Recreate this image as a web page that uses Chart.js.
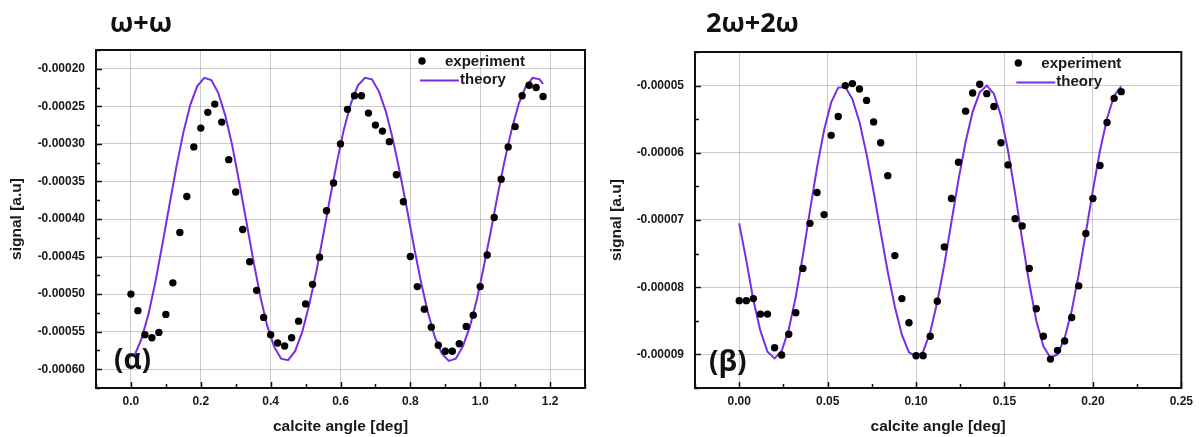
<!DOCTYPE html>
<html lang="en">
<head>
<meta charset="UTF-8">
<title>calcite angle scans</title>
<script src="https://cdn.jsdelivr.net/npm/chart.js"></script>
<style>
    body { margin: 0; background: #fff; }
    .panel { position: absolute; top: 0; height: 437px; }
    #left { left: 0; width: 600px; }
    #right { left: 600px; width: 599px; }
    canvas { display: block; }
    .title, .tag {
        position: absolute;
        font-family: 'Open Sans', sans-serif;
        font-weight: 700;
        line-height: 1;
        color: #111;
        white-space: nowrap;
    }
    .title { font-size: 27px; }
    .tag { font-size: 28px; }
</style>
</head>
<body>
<div class="panel" id="left">
    <canvas id="chartA" width="600" height="437"></canvas>
    <div class="title" style="left:110px; top:8px">ω+ω</div>
    <div class="tag" style="left:114px; top:344px">(α)</div>
</div>
<div class="panel" id="right">
    <canvas id="chartB" width="599" height="437"></canvas>
    <div class="title" style="left:106px; top:8px">2ω+2ω</div>
    <div class="tag" style="left:109px; top:346px">(β)</div>
</div>

<script>
// --- ω+ω panel ---
const angleA = [0.00, 0.02, 0.04, 0.06, 0.08, 0.10, 0.12, 0.14, 0.16, 0.18,
    0.20, 0.22, 0.24, 0.26, 0.28, 0.30, 0.32, 0.34, 0.36, 0.38,
    0.40, 0.42, 0.44, 0.46, 0.48, 0.50, 0.52, 0.54, 0.56, 0.58,
    0.60, 0.62, 0.64, 0.66, 0.68, 0.70, 0.72, 0.74, 0.76, 0.78,
    0.80, 0.82, 0.84, 0.86, 0.88, 0.90, 0.92, 0.94, 0.96, 0.98,
    1.00, 1.02, 1.04, 1.06, 1.08, 1.10, 1.12, 1.14, 1.16, 1.18];
const experimentA = [-0.000500, -0.000522, -0.000554, -0.000558, -0.000551, -0.000527, -0.000485, -0.000418, -0.000370, -0.000304,
    -0.000279, -0.000258, -0.000247, -0.000271, -0.000321, -0.000364, -0.000414, -0.000457, -0.000495, -0.000531,
    -0.000554, -0.000565, -0.000569, -0.000558, -0.000536, -0.000513, -0.000487, -0.000451, -0.000389, -0.000352,
    -0.000300, -0.000254, -0.000236, -0.000236, -0.000259, -0.000275, -0.000283, -0.000297, -0.000341, -0.000377,
    -0.000450, -0.000490, -0.000520, -0.000544, -0.000568, -0.000576, -0.000576, -0.000566, -0.000543, -0.000528,
    -0.000490, -0.000448, -0.000398, -0.000347, -0.000304, -0.000277, -0.000236, -0.000222, -0.000225, -0.000237];
const theoryAngleA = [0.01, 0.03, 0.05, 0.07, 0.09, 0.11, 0.13, 0.15, 0.17, 0.19,
    0.21, 0.23, 0.25, 0.27, 0.29, 0.31, 0.33, 0.35, 0.37, 0.39,
    0.41, 0.43, 0.45, 0.47, 0.49, 0.51, 0.53, 0.55, 0.57, 0.59,
    0.61, 0.63, 0.65, 0.67, 0.69, 0.71, 0.73, 0.75, 0.77, 0.79,
    0.81, 0.83, 0.85, 0.87, 0.89, 0.91, 0.93, 0.95, 0.97, 0.99,
    1.01, 1.03, 1.05, 1.07, 1.09, 1.11, 1.13, 1.15, 1.17, 1.18];
const theoryA = [-0.000582, -0.000560, -0.000527, -0.000484, -0.000434, -0.000382, -0.000331, -0.000285, -0.000248, -0.000223,
    -0.000212, -0.000215, -0.000232, -0.000262, -0.000302, -0.000351, -0.000402, -0.000454, -0.000502, -0.000542,
    -0.000570, -0.000586, -0.000588, -0.000576, -0.000551, -0.000515, -0.000472, -0.000423, -0.000372, -0.000324,
    -0.000280, -0.000246, -0.000222, -0.000212, -0.000214, -0.000230, -0.000257, -0.000294, -0.000338, -0.000386,
    -0.000436, -0.000483, -0.000524, -0.000557, -0.000579, -0.000589, -0.000586, -0.000570, -0.000544, -0.000508,
    -0.000464, -0.000417, -0.000368, -0.000322, -0.000281, -0.000247, -0.000224, -0.000212, -0.000214, -0.000220];

// --- 2ω+2ω panel ---
const angleB = [0.000, 0.004, 0.008, 0.012, 0.016, 0.020, 0.024, 0.028, 0.032, 0.036,
    0.040, 0.044, 0.048, 0.052, 0.056, 0.060, 0.064, 0.068, 0.072, 0.076,
    0.080, 0.084, 0.088, 0.092, 0.096, 0.100, 0.104, 0.108, 0.112, 0.116,
    0.120, 0.124, 0.128, 0.132, 0.136, 0.140, 0.144, 0.148, 0.152, 0.156,
    0.160, 0.164, 0.168, 0.172, 0.176, 0.180, 0.184, 0.188, 0.192, 0.196,
    0.200, 0.204, 0.208, 0.212, 0.216];
const experimentB = [-0.0000820, -0.0000820, -0.0000817, -0.0000840, -0.0000840, -0.0000890, -0.0000901, -0.0000870, -0.0000838, -0.0000772,
    -0.0000705, -0.0000659, -0.0000692, -0.0000574, -0.0000546, -0.0000500, -0.0000497, -0.0000505, -0.0000522, -0.0000554,
    -0.0000585, -0.0000634, -0.0000753, -0.0000817, -0.0000853, -0.0000902, -0.0000902, -0.0000873, -0.0000821, -0.0000740,
    -0.0000668, -0.0000614, -0.0000538, -0.0000511, -0.0000498, -0.0000512, -0.0000531, -0.0000585, -0.0000618, -0.0000698,
    -0.0000709, -0.0000772, -0.0000832, -0.0000873, -0.0000907, -0.0000894, -0.0000880, -0.0000845, -0.0000798, -0.0000720,
    -0.0000668, -0.0000619, -0.0000555, -0.0000519, -0.0000509];
const theoryAngleB = angleB;
const theoryB = [-0.0000705, -0.0000760, -0.0000819, -0.0000865, -0.0000896, -0.0000906, -0.0000895, -0.0000863, -0.0000814, -0.0000753,
    -0.0000686, -0.0000622, -0.0000566, -0.0000525, -0.0000503, -0.0000502, -0.0000520, -0.0000554, -0.0000602, -0.0000658,
    -0.0000718, -0.0000777, -0.0000829, -0.0000871, -0.0000897, -0.0000903, -0.0000896, -0.0000867, -0.0000822, -0.0000766,
    -0.0000703, -0.0000640, -0.0000584, -0.0000539, -0.0000510, -0.0000500, -0.0000512, -0.0000545, -0.0000597, -0.0000660,
    -0.0000729, -0.0000794, -0.0000850, -0.0000888, -0.0000905, -0.0000900, -0.0000876, -0.0000835, -0.0000781, -0.0000719,
    -0.0000656, -0.0000597, -0.0000549, -0.0000515, -0.0000501];

const PURPLE = '#7a2de6';
const GRID = 'rgba(0,0,0,0.2)';
const TEXT = '#1a1a1a';
const FONT = '"Liberation Sans", Arial, sans-serif';

function isMajor(v, step) {
    const r = v / step;
    return Math.abs(r - Math.round(r)) < 1e-6;
}

// frame, inward tick marks and the in-plot legend
const framePlugin = {
    id: 'frame',
    afterDraw(chart, args, opts) {
        const { ctx, chartArea: a, scales: { x, y } } = chart;
        ctx.save();
        ctx.strokeStyle = '#111';
        ctx.lineWidth = 1.5;
        ctx.beginPath();
        x.ticks.forEach(t => {
            const px = Math.round(x.getPixelForValue(t.value)) + 0.5;
            const len = isMajor(t.value, opts.xMajor) ? 6 : 4;
            ctx.moveTo(px, a.bottom);
            ctx.lineTo(px, a.bottom - len);
        });
        y.ticks.forEach(t => {
            const py = Math.round(y.getPixelForValue(t.value)) + 0.5;
            const len = isMajor(t.value, opts.yMajor) ? 6 : 4;
            ctx.moveTo(a.left, py);
            ctx.lineTo(a.left + len, py);
        });
        ctx.stroke();

        ctx.lineWidth = 2;
        ctx.strokeRect(a.left, a.top, a.right - a.left, a.bottom - a.top);

        // legend
        const lx = a.right - 163;
        const ly = a.top + 11;
        ctx.fillStyle = '#000';
        ctx.beginPath();
        ctx.arc(lx, ly, 3.7, 0, Math.PI * 2);
        ctx.fill();
        ctx.strokeStyle = PURPLE;
        ctx.lineWidth = 2;
        ctx.beginPath();
        ctx.moveTo(lx - 2, ly + 19.5);
        ctx.lineTo(lx + 37, ly + 19.5);
        ctx.stroke();
        ctx.fillStyle = TEXT;
        ctx.font = 'bold 15px ' + FONT;
        ctx.textBaseline = 'middle';
        ctx.fillText('experiment', lx + 23, ly + 1);
        ctx.fillText('theory', lx + 38, ly + 19);
        ctx.restore();
    }
};

function toPoints(xs, ys) {
    return xs.map((x, i) => ({ x: x, y: ys[i] }));
}

function buildChart(id, c) {
    return new Chart(document.getElementById(id), {
        type: 'scatter',
        data: {
            datasets: [
                {
                    label: 'experiment',
                    data: toPoints(c.expX, c.expY),
                    backgroundColor: '#000',
                    borderWidth: 0,
                    pointRadius: 3.7,
                    pointHoverRadius: 3.7
                },
                {
                    label: 'theory',
                    data: toPoints(c.thX, c.thY),
                    showLine: true,
                    borderColor: PURPLE,
                    borderWidth: 2,
                    pointRadius: 0,
                    tension: 0
                }
            ]
        },
        options: {
            responsive: false,
            animation: false,
            devicePixelRatio: 1,
            layout: { padding: { top: c.padTop, right: c.padRight, left: 0, bottom: 0 } },
            plugins: {
                legend: { display: false },
                tooltip: { enabled: false },
                frame: { xMajor: c.xMajor, yMajor: c.yMajor }
            },
            scales: {
                x: {
                    type: 'linear',
                    min: c.xMin,
                    max: c.xMax,
                    afterFit: s => { s.height = 49; },
                    border: { display: false },
                    grid: {
                        drawTicks: false,
                        color: g => (g.tick && isMajor(g.tick.value, c.xMajor)) ? GRID : 'rgba(0,0,0,0)'
                    },
                    ticks: {
                        stepSize: c.xStep,
                        autoSkip: false,
                        maxRotation: 0,
                        padding: 6,
                        color: TEXT,
                        font: { family: FONT, size: 12, weight: 'bold' },
                        callback: v => isMajor(v, c.xMajor) ? v.toFixed(c.xDigits) : ''
                    },
                    title: {
                        display: true,
                        text: 'calcite angle [deg]',
                        color: TEXT,
                        font: { family: FONT, size: 15.5, weight: 'bold' },
                        padding: { top: 0, bottom: 1 }
                    }
                },
                y: {
                    type: 'linear',
                    min: c.yMin,
                    max: c.yMax,
                    afterFit: s => { s.width = c.yWidth; },
                    border: { display: false },
                    grid: {
                        drawTicks: false,
                        color: g => (g.tick && isMajor(g.tick.value, c.yMajor)) ? GRID : 'rgba(0,0,0,0)'
                    },
                    ticks: {
                        stepSize: c.yStep,
                        autoSkip: false,
                        padding: 11,
                        color: TEXT,
                        font: { family: FONT, size: 12, weight: 'bold' },
                        callback: v => isMajor(v, c.yMajor) ? v.toFixed(5) : ''
                    },
                    title: {
                        display: true,
                        text: 'signal [a.u]',
                        color: TEXT,
                        font: { family: FONT, size: 15.5, weight: 'bold' },
                        padding: { top: 7, bottom: 0 }
                    }
                }
            }
        },
        plugins: [framePlugin]
    });
}

buildChart('chartA', {
    expX: angleA, expY: experimentA, thX: theoryAngleA, thY: theoryA,
    xMin: -0.1, xMax: 1.3, xStep: 0.1, xMajor: 0.2, xDigits: 1,
    yMin: -0.000625, yMax: -0.000175, yStep: 0.000025, yMajor: 0.00005,
    padTop: 50, padRight: 15, yWidth: 96
});

buildChart('chartB', {
    expX: angleB, expY: experimentB, thX: theoryAngleB, thY: theoryB,
    xMin: -0.025, xMax: 0.25, xStep: 0.025, xMajor: 0.05, xDigits: 2,
    yMin: -0.000095, yMax: -0.000045, yStep: 0.000005, yMajor: 0.00001,
    padTop: 52, padRight: 17, yWidth: 95
});
</script>
</body>
</html>
